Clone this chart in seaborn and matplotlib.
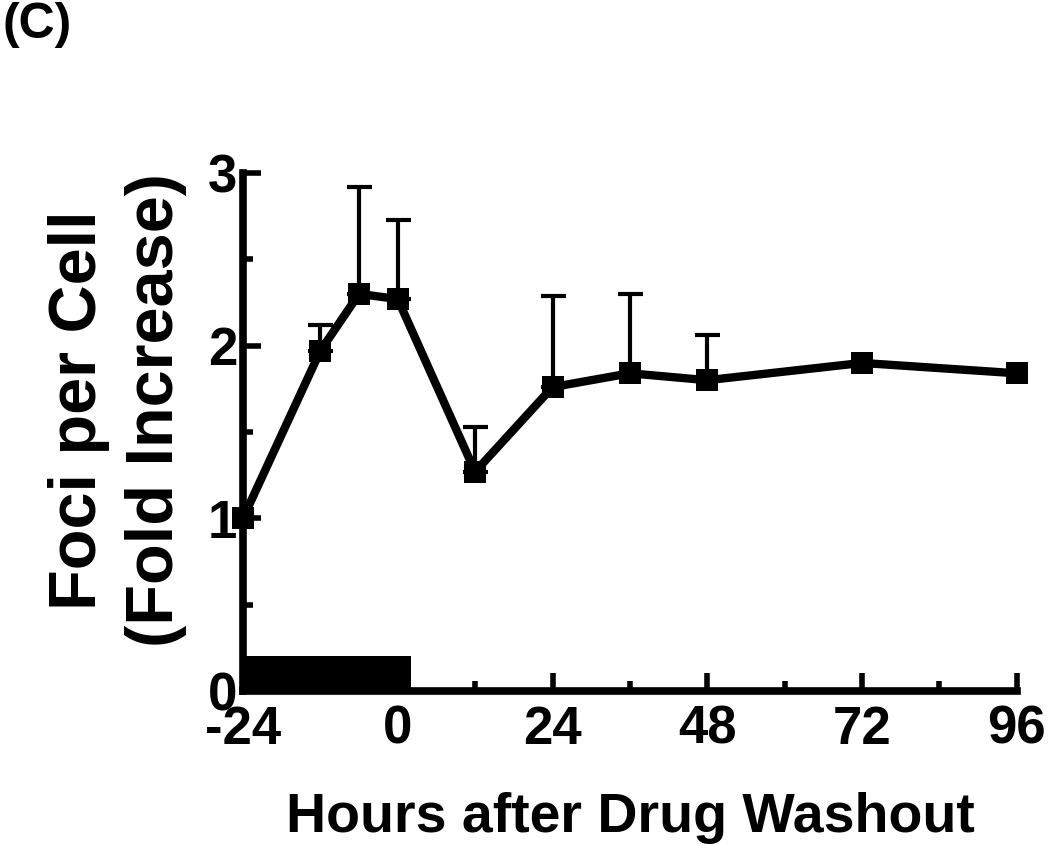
import numpy as np
import pandas as pd
import matplotlib
matplotlib.use("Agg")
import matplotlib.pyplot as plt
import seaborn as sns

# values
hours = [-24, -12, -6, 0, 12, 24, 36, 48, 72, 96]
fold = [1.00, 1.97, 2.30, 2.27, 1.27, 1.76, 1.84, 1.80, 1.90, 1.84]

# upper error bars (only where visible)
err_hours = [-12, -6, 0, 12, 24, 36, 48]
err_mean = [1.97, 2.30, 2.27, 1.27, 1.76, 1.84, 1.80]
err_top = [2.12, 2.92, 2.73, 1.53, 2.29, 2.30, 2.06]

# drug treatment period (black bar)
drug_start, drug_end, drug_height = -24, 2, 0.2

xticks = [-24, 0, 24, 48, 72, 96]
xminor = [-12, 12, 36, 60, 84]
yticks = [0, 1, 2, 3]
yminor = [0.5, 1.5, 2.5]

sns.set_style("ticks", {'axes.edgecolor': 'black', 'text.color': 'black',
                        'xtick.color': 'black', 'ytick.color': 'black',
                        'axes.labelcolor': 'black'})
plt.rcParams['font.family'] = ['Liberation Sans', 'DejaVu Sans']
plt.rcParams['font.weight'] = 'bold'

fig = plt.figure(figsize=(10.5, 8.44), dpi=100)
ax = fig.add_axes([0.2314, 0.1813, 0.737, 0.6137])

df = pd.DataFrame({'hours': hours, 'fold': fold})

# error bars (upper only)
lower = np.zeros(len(err_mean))
upper = np.array(err_top) - np.array(err_mean)
ax.errorbar(err_hours, err_mean, yerr=[lower, upper], fmt='none',
            ecolor='black', elinewidth=3, capsize=9, capthick=3, zorder=2,
            clip_on=False)

sns.lineplot(data=df, x='hours', y='fold', ax=ax, color='black', lw=6,
             marker='s', markersize=16, markeredgewidth=0, zorder=3,
             clip_on=False)

# drug bar
ax.bar(drug_start, drug_height, width=drug_end - drug_start, align='edge',
       color='black', linewidth=0, zorder=4, clip_on=False)

ax.set_xlim(-24, 96)
ax.set_ylim(0, 3)
ax.set_xticks(xticks)
ax.set_xticks(xminor, minor=True)
ax.set_yticks(yticks)
ax.set_yticks(yminor, minor=True)
ax.set_xticklabels([str(t) for t in xticks])
ax.set_yticklabels([str(t) for t in yticks])

for side in ['top', 'right']:
    ax.spines[side].set_visible(False)
for side in ['left', 'bottom']:
    ax.spines[side].set_linewidth(5.5)
    ax.spines[side].set_color('black')
    ax.spines[side].set_capstyle('projecting')

ax.tick_params(which='major', direction='in', length=13, width=4,
               labelsize=38, color='black', labelcolor='black')
ax.tick_params(which='minor', direction='in', length=7.5, width=4,
               color='black')
ax.tick_params(axis='x', which='major', pad=10)
ax.tick_params(axis='y', which='major', pad=4)

ax.set_xlabel('Hours after Drug Washout', fontsize=40, fontweight='bold',
              color='black')
ax.xaxis.label.set_va('baseline')
ax.xaxis.set_label_coords(0.5, -0.272)

ax.set_ylabel('Foci per Cell\n(Fold Increase)', fontsize=48,
              fontweight='bold', linespacing=1.3, color='black')
ax.yaxis.label.set_va('center')
ax.yaxis.set_label_coords(-0.162, 0.5425)

fig.text(0.002, 0.998, '(C)', fontsize=36, fontweight='bold',
         ha='left', va='top', color='black')

fig.savefig('out.png', dpi=100)
